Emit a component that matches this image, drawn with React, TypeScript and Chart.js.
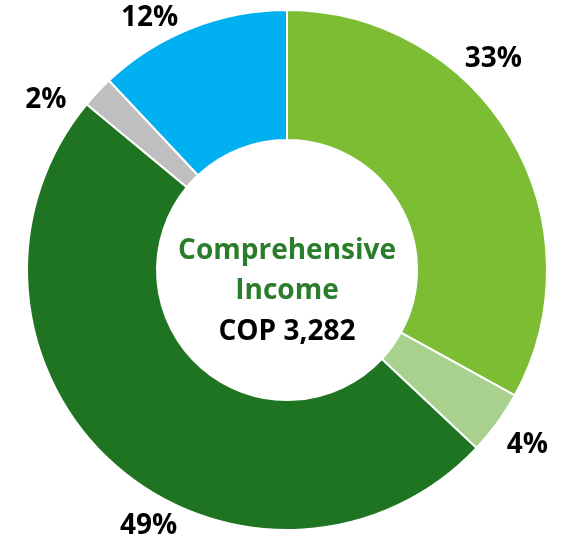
import React, { useEffect, useRef } from "react";
import { Chart, registerables } from "chart.js";

Chart.register(...registerables);

const categories = ["Segment A", "Segment B", "Segment C", "Segment D", "Segment E"];
const shares = [33, 4, 49, 2, 12];
const percentLabels = ["33%", "4%", "49%", "2%", "12%"];
const centerTitle = ["Comprehensive", "Income"];
const centerValue = "COP 3,282";

const colors = ["#7CBD33", "#A9D18E", "#1F7421", "#BFBFBF", "#00B0F0"];
// label placement tweaks (degrees) and radial distance beyond the ring
const labelAngleNudge = [-15, 0, -13, -8, -7];
const labelGap = [35, 37, 31, 35, 27];

const FONT = "'Open Sans', Lato, sans-serif";

const labelPlugin = {
  id: "ringLabels",
  afterDatasetsDraw(chart: any) {
    const ctx = chart.ctx;
    const meta = chart.getDatasetMeta(0);
    ctx.save();
    ctx.textAlign = "center";
    ctx.textBaseline = "middle";
    let cx = 0,
      cy = 0;
    meta.data.forEach((arc: any, i: number) => {
      const { x, y, startAngle, endAngle, outerRadius } = arc.getProps(
        ["x", "y", "startAngle", "endAngle", "outerRadius"],
        true
      );
      cx = x;
      cy = y;
      const mid = (startAngle + endAngle) / 2 + (labelAngleNudge[i] * Math.PI) / 180;
      const r = outerRadius + labelGap[i];
      ctx.fillStyle = "#000000";
      ctx.font = `bold 28px ${FONT}`;
      ctx.fillText(percentLabels[i], x + Math.cos(mid) * r, y + Math.sin(mid) * r);
    });
    ctx.fillStyle = "#2A7D2A";
    ctx.font = `bold 28px ${FONT}`;
    ctx.fillText(centerTitle[0], cx, cy - 19);
    ctx.fillText(centerTitle[1], cx, cy + 21);
    ctx.fillStyle = "#000000";
    ctx.fillText(centerValue, cx, cy + 62);
    ctx.restore();
  },
};

export default function App() {
  const ref = useRef<HTMLCanvasElement | null>(null);
  useEffect(() => {
    document.body.style.margin = "0";
    const chart = new Chart(ref.current as HTMLCanvasElement, {
      type: "doughnut",
      data: {
        labels: categories,
        datasets: [
          {
            data: shares,
            backgroundColor: colors,
            borderColor: "#ffffff",
            borderWidth: 2,
          },
        ],
      },
      options: {
        responsive: false,
        animation: false,
        cutout: "50%",
        layout: { padding: { left: 26, right: 16, top: 9, bottom: 11 } },
        plugins: {
          legend: { display: false },
          tooltip: { enabled: false },
        },
      },
      plugins: [labelPlugin],
    });
    return () => chart.destroy();
  }, []);
  return (
    <div style={{ width: 564, height: 542, background: "#fff" }}>
      <canvas ref={ref} width={564} height={542} />
    </div>
  );
}
